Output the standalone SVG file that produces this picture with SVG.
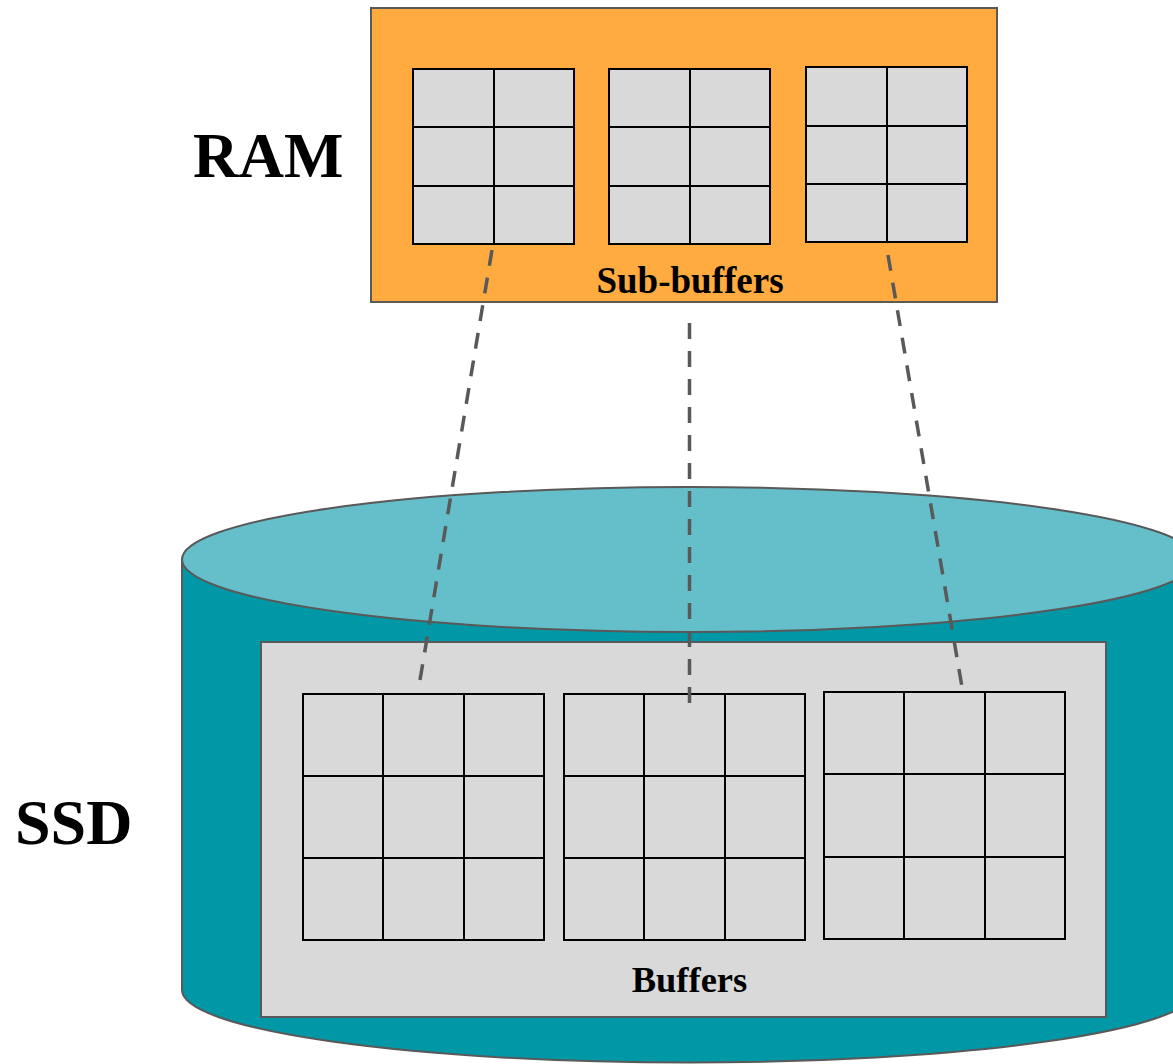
<svg xmlns="http://www.w3.org/2000/svg" width="1173" height="1064" viewBox="0 0 1173 1064">
<style>
.lbl{font-family:"Liberation Serif","Times New Roman",serif;font-weight:bold;fill:#000}
.cell{fill:#D9D9D9;stroke:#000;stroke-width:2}
.grid{fill:none;stroke:#000;stroke-width:2}
.conn{fill:none;stroke:#595959;stroke-width:3.5;stroke-dasharray:16 12}
</style>
<rect width="1173" height="1064" fill="#fff"/>
<g id="ssd">
<path d="M182,559.5 L182,990 A507,72.5 0 0 0 1196,990 L1196,559.5 Z" fill="#0097A7" stroke="#595959" stroke-width="2"/>
<ellipse cx="689" cy="559.5" rx="507" ry="72.5" fill="#65BFCA" stroke="#595959" stroke-width="2"/>
<rect x="261" y="642" width="845" height="375" fill="#D9D9D9" stroke="#595959" stroke-width="2"/>
<text class="lbl" x="689.5" y="992" font-size="36.5" text-anchor="middle">Buffers</text>
<text class="lbl" x="15" y="844" font-size="64">SSD</text>
</g>
<g id="buffer1">
<rect class="cell" x="303" y="694" width="241" height="246"/>
<path class="grid" d="M383,694V940M464,694V940M303,776H544M303,858H544"/>
</g>
<g id="buffer2">
<rect class="cell" x="564" y="694" width="241" height="246"/>
<path class="grid" d="M644,694V940M725,694V940M564,776H805M564,858H805"/>
</g>
<g id="buffer3">
<rect class="cell" x="824" y="692" width="241" height="247"/>
<path class="grid" d="M904,692V939M985,692V939M824,774H1065M824,857H1065"/>
</g>
<g id="ram">
<rect x="371" y="8" width="626" height="294" fill="#FFAB40" stroke="#595959" stroke-width="2"/>
<text class="lbl" x="690" y="293" font-size="37" text-anchor="middle">Sub-buffers</text>
<text class="lbl" x="193" y="177" font-size="63">RAM</text>
</g>
<g id="subbuffer1">
<rect class="cell" x="413" y="69" width="161" height="175"/>
<path class="grid" d="M494,69V244M413,127H574M413,186H574"/>
</g>
<g id="subbuffer2">
<rect class="cell" x="609" y="69" width="161" height="175"/>
<path class="grid" d="M690,69V244M609,127H770M609,186H770"/>
</g>
<g id="subbuffer3">
<rect class="cell" x="806" y="67" width="161" height="175"/>
<path class="grid" d="M887,67V242M806,126H967M806,184H967"/>
</g>
<g id="connectors">
<line class="conn" x1="492" y1="250" x2="420" y2="680"/>
<line class="conn" x1="689.5" y1="323" x2="689.5" y2="703"/>
<line class="conn" x1="888" y1="255" x2="962" y2="687"/>
</g>
</svg>
